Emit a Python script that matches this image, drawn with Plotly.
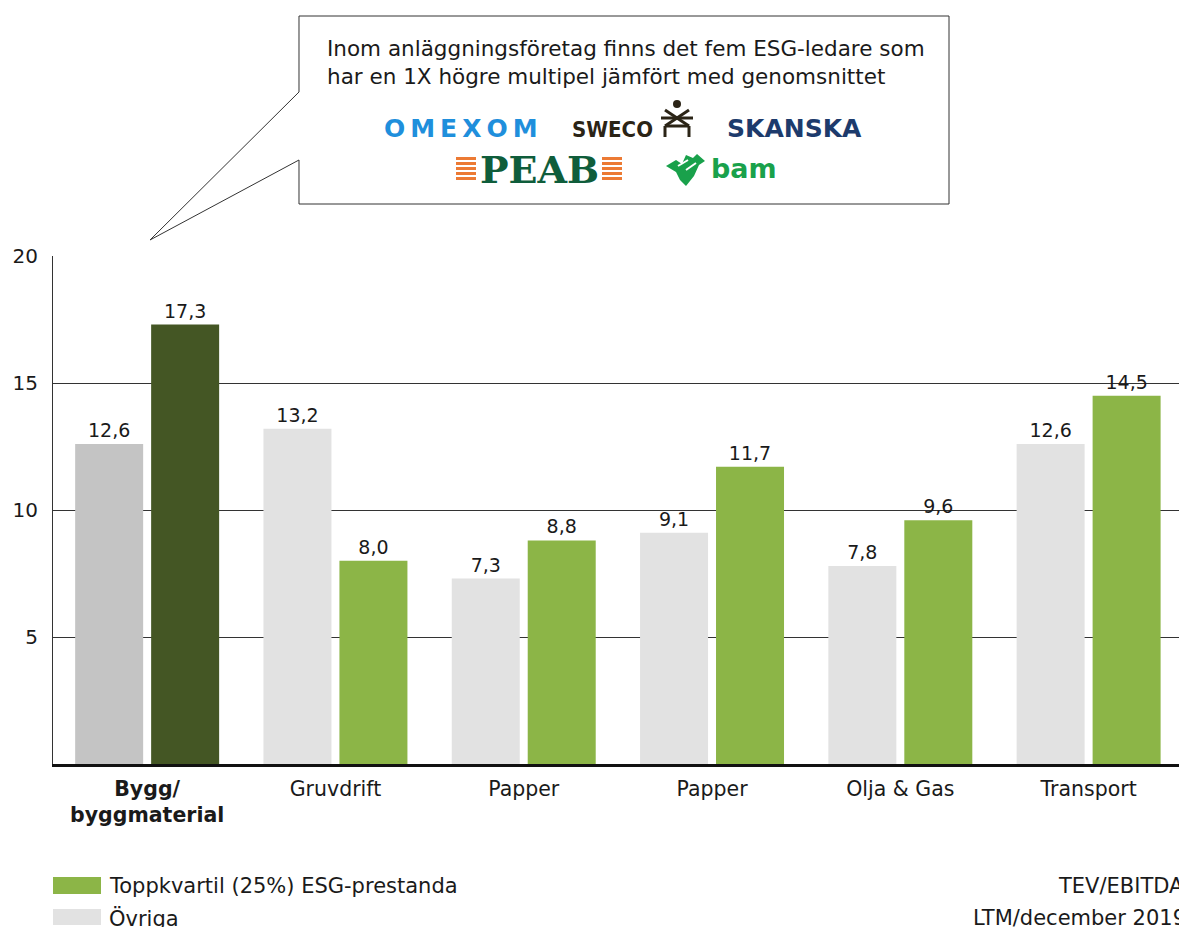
import plotly.graph_objects as go

# ---------------- data ----------------
categories = ["<b>Bygg/</b><br><b>byggmaterial</b>", "Gruvdrift", "Papper", "Papper", "Olja & Gas", "Transport"]
ovriga = [12.6, 13.2, 7.3, 9.1, 7.8, 12.6]
toppkvartil = [17.3, 8.0, 8.8, 11.7, 9.6, 14.5]
y_ticks = [5, 10, 15, 20]

legend_labels = ["Toppkvartil (25%) ESG-prestanda", "Övriga"]
callout_text = "Inom anläggningsföretag finns det fem ESG-ledare som<br>har en 1X högre multipel jämfört med genomsnittet"
note_lines = ["TEV/EBITDA", "LTM/december 2019"]

# ---------------- style ----------------
FONT = "DejaVu Sans"
TXT = "#1a1a1a"
GREEN = "#8cb547"
DARK_GREEN = "#445624"
GREY = "#e2e2e2"
DARK_GREY = "#c4c4c4"

W, H = 1179, 927
L, R, T, B = 53, 0, 256, 163
PW, PH = W - L - R, H - T - B


def px(x):
    return (x - L) / PW


def py(y):
    return (H - B - y) / PH


x_idx = list(range(len(categories)))
grey_colors = [DARK_GREY] + [GREY] * (len(categories) - 1)
green_colors = [DARK_GREEN] + [GREEN] * (len(categories) - 1)

fig = go.Figure()
fig.add_trace(go.Bar(
    x=x_idx, y=ovriga, name=legend_labels[1], marker=dict(color=grey_colors, line=dict(width=0)),
    texttemplate="%{y:.1f}", textposition="outside", cliponaxis=False,
    textfont=dict(family=FONT, size=19, color=TXT), showlegend=False,
))
fig.add_trace(go.Bar(
    x=x_idx, y=toppkvartil, name=legend_labels[0], marker=dict(color=green_colors, line=dict(width=0)),
    texttemplate="%{y:.1f}", textposition="outside", cliponaxis=False,
    textfont=dict(family=FONT, size=19, color=TXT), showlegend=False,
))

fig.update_layout(
    width=W, height=H,
    margin=dict(l=L, r=R, t=T, b=B, pad=0),
    paper_bgcolor="white", plot_bgcolor="white",
    barmode="group", bargap=0.193, bargroupgap=0.105,
    separators=", ",
    font=dict(family=FONT, size=21, color=TXT),
    showlegend=False,
    xaxis=dict(
        range=[-0.5, 5.48], tickmode="array", tickvals=x_idx, ticktext=categories,
        showgrid=False, zeroline=False, showline=True, linecolor="#111", linewidth=3,
        ticks="", tickfont=dict(family=FONT, size=20.5, color=TXT), fixedrange=True,
        ticklabelstandoff=4,
    ),
    yaxis=dict(
        range=[0, 20], tickmode="array", tickvals=y_ticks, ticktext=[str(v) for v in y_ticks],
        showgrid=True, gridcolor="#333", gridwidth=1, zeroline=False,
        showline=True, linecolor="#333", linewidth=1, ticks="",
        tickfont=dict(family=FONT, size=20, color=TXT), ticklabelstandoff=10,
    ),
)

shapes = []
annotations = []

# ---- callout box with pointer ----
pts = [(299, 16), (949, 16), (949, 204), (299, 204), (299, 160), (150, 240), (299, 92)]
path = "M " + " L ".join(f"{px(x):.5f},{py(y):.5f}" for x, y in pts) + " Z"
shapes.append(dict(type="path", xref="paper", yref="paper", path=path,
                   line=dict(color="#333", width=1), fillcolor="white", layer="above"))

annotations.append(dict(xref="paper", yref="paper", x=px(325), y=py(62), xanchor="left", yanchor="middle",
                        text=callout_text, showarrow=False, align="left",
                        font=dict(family=FONT, size=21.5, color=TXT)))

# ---- logos (text approximations) ----
thin = "\u2009"
annotations.append(dict(xref="paper", yref="paper", x=px(461), y=py(128), xanchor="center", yanchor="middle",
                        text="<b>" + thin.join("OMEXOM") + "</b>", showarrow=False,
                        font=dict(family="DejaVu Sans", size=25, color="#1f8fdc")))
annotations.append(dict(xref="paper", yref="paper", x=px(612), y=py(129), xanchor="center", yanchor="middle",
                        text="<b>SWECO</b>", showarrow=False,
                        font=dict(family="DejaVu Sans Condensed", size=22, color="#2b2416")))
annotations.append(dict(xref="paper", yref="paper", x=px(794), y=py(128), xanchor="center", yanchor="middle",
                        text="<b>SKANSKA</b>", showarrow=False,
                        font=dict(family="DejaVu Sans", size=25, color="#1d3b6c")))

# peab stripes
for (y0, y1) in [(157, 160), (162, 165), (167, 170), (172, 175), (177, 180)]:
    for (x0, x1) in [(456, 476), (602, 622)]:
        shapes.append(dict(type="rect", xref="paper", yref="paper", x0=px(x0), x1=px(x1), y0=py(y0), y1=py(y1),
                           line=dict(width=0), fillcolor="#ec7a34", layer="above"))
annotations.append(dict(xref="paper", yref="paper", x=px(539), y=py(169), xanchor="center", yanchor="middle",
                        text="<b>PEAB</b>", showarrow=False,
                        font=dict(family="DejaVu Serif", size=38, color="#0f5d3b")))
annotations.append(dict(xref="paper", yref="paper", x=px(744), y=py(168), xanchor="center", yanchor="middle",
                        text="<b>bam</b>", showarrow=False,
                        font=dict(family="DejaVu Sans", size=27, color="#19a14b")))

# sweco glyph
SW = "#2b2416"
shapes.append(dict(type="circle", xref="paper", yref="paper", x0=px(673), x1=px(681), y0=py(100), y1=py(108),
                   line=dict(width=0), fillcolor=SW))
for (x0, y0, x1, y1) in [(665, 110, 689, 126), (689, 110, 665, 126), (661, 118, 693, 118),
                         (665, 126, 689, 126), (665, 126, 665, 137), (689, 126, 689, 137)]:
    shapes.append(dict(type="line", xref="paper", yref="paper", x0=px(x0), y0=py(y0), x1=px(x1), y1=py(y1),
                       line=dict(color=SW, width=3)))

# bam glyph
bam_path = [(666, 166), (676, 160), (682, 164), (686, 155), (693, 158), (697, 154), (705, 161), (699, 165),
            (694, 176), (686, 186), (680, 180), (676, 172)]
shapes.append(dict(type="path", xref="paper", yref="paper",
                   path="M " + " L ".join(f"{px(x):.5f},{py(y):.5f}" for x, y in bam_path) + " Z",
                   line=dict(width=0), fillcolor="#19a14b"))
for (x0, y0, x1, y1) in [(678, 166, 688, 160), (686, 170, 696, 163)]:
    shapes.append(dict(type="line", xref="paper", yref="paper", x0=px(x0), y0=py(y0), x1=px(x1), y1=py(y1),
                       line=dict(color="white", width=2)))

# ---- legend (manual) ----
for (y0, y1, col, lab, yc) in [(877, 894, GREEN, legend_labels[0], 886), (909, 925, GREY, legend_labels[1], 918)]:
    shapes.append(dict(type="rect", xref="paper", yref="paper", x0=px(53), x1=px(101), y0=py(y0), y1=py(y1),
                       line=dict(width=0), fillcolor=col))
    annotations.append(dict(xref="paper", yref="paper", x=px(107), y=py(yc), xanchor="left", yanchor="middle",
                            text=lab, showarrow=False, font=dict(family=FONT, size=21, color=TXT)))

# ---- note ----
annotations.append(dict(xref="paper", yref="paper", x=px(1186), y=py(886), xanchor="right", yanchor="middle",
                        text=note_lines[0], showarrow=False, font=dict(family=FONT, size=21, color=TXT)))
annotations.append(dict(xref="paper", yref="paper", x=px(1188), y=py(918), xanchor="right", yanchor="middle",
                        text=note_lines[1], showarrow=False, font=dict(family=FONT, size=21, color=TXT)))

fig.update_layout(shapes=shapes, annotations=annotations)
fig.write_html("out.html", config={"displayModeBar": False},
               post_script="document.body.style.margin='0';document.body.style.overflow='hidden';")
